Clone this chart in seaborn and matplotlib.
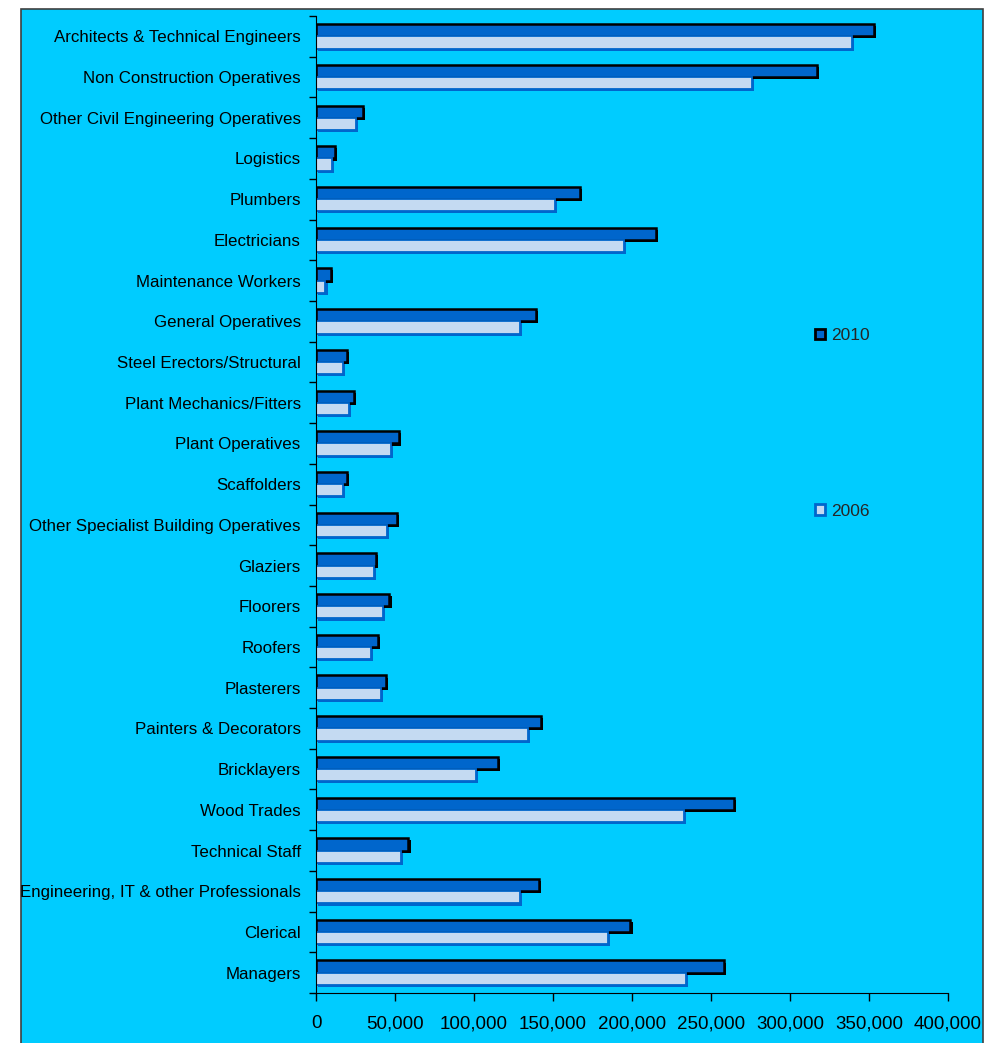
import matplotlib
matplotlib.use("Agg")
import matplotlib.pyplot as plt
import matplotlib.patheffects as pe
from matplotlib.patches import Patch, Rectangle
from matplotlib.ticker import FuncFormatter, MultipleLocator
import numpy as np
import pandas as pd
import seaborn as sns

# --- Data (thousands) ---
occupations = [
    "Architects & Technical Engineers",
    "Non Construction Operatives",
    "Other Civil Engineering Operatives",
    "Logistics",
    "Plumbers",
    "Electricians",
    "Maintenance Workers",
    "General Operatives",
    "Steel Erectors/Structural",
    "Plant Mechanics/Fitters",
    "Plant Operatives",
    "Scaffolders",
    "Other Specialist Building Operatives",
    "Glaziers",
    "Floorers",
    "Roofers",
    "Plasterers",
    "Painters & Decorators",
    "Bricklayers",
    "Wood Trades",
    "Technical Staff",
    "Engineering, IT & other Professionals",
    "Clerical",
    "Managers",
]
values_2010 = [353, 317, 29.5, 12, 167, 215, 9.5, 139.5, 19.5, 24, 52.5, 19.5,
               51.5, 38, 46.5, 39, 44, 142.5, 115, 264.5, 58.5, 141, 199, 258]
values_2006 = [339, 276, 25, 10, 151, 195, 6, 129, 17, 21, 47.5, 17,
               45, 36.5, 42.5, 34.5, 41, 134, 101, 233, 53.5, 129, 184.5, 234]
years = ["2010", "2006"]

df = pd.DataFrame({
    "occupation": occupations * 2,
    "year": [years[0]] * len(occupations) + [years[1]] * len(occupations),
    "workers": np.array(values_2010 + values_2006) * 1000,
})

BG = "#00CCFF"
DARK = "#0066CC"
LIGHT = "#C4DAF2"

sns.set_style("ticks")
plt.rcParams["font.family"] = ["Liberation Sans", "DejaVu Sans"]

fig = plt.figure(figsize=(9.91, 10.43), dpi=100, facecolor="white")
# cyan chart area with a thin dark frame (behind the axes)
fig.patches.append(Rectangle((21 / 991, -0.01), 962 / 991, 1.01 - 9 / 1043,
                             transform=fig.transFigure, facecolor=BG,
                             edgecolor="#404040", linewidth=1.2, zorder=-5))
ax = fig.add_axes([316 / 991, 1 - 993 / 1043, 632 / 991, 977 / 1043])
ax.set_zorder(2)
ax.set_facecolor(BG)

sns.barplot(data=df, y="occupation", x="workers", hue="year",
            hue_order=years, order=occupations, orient="h",
            palette=[DARK, LIGHT], width=0.6, ax=ax, saturation=1)

# edges + drop shadow like the original office chart
styles = [("black", "black", 1.8), (DARK, DARK, 1.3)]
for cont, (edge, shadow, lw) in zip(ax.containers, styles):
    for bar in cont:
        bar.set_edgecolor(edge)
        bar.set_linewidth(lw)
        bar.set_path_effects([
            pe.SimplePatchShadow(offset=(1.5, -1.5), shadow_rgbFace=shadow, alpha=1),
            pe.Normal(),
        ])

ax.set_xlim(0, 400000)
ax.set_ylim(len(occupations) - 0.5, -0.5)
ax.xaxis.set_major_locator(MultipleLocator(50000))
ax.xaxis.set_major_formatter(FuncFormatter(lambda v, p: f"{int(v):,}"))

ax.set_yticks(np.arange(len(occupations)))
ax.set_yticks(np.arange(-0.5, len(occupations), 1), minor=True)
ax.tick_params(axis="y", which="major", length=0, pad=11, labelsize=12.2)
ax.tick_params(axis="y", which="minor", length=5, width=1, color="black")
ax.tick_params(axis="x", which="major", length=6, width=1, color="black",
               labelsize=13.5, pad=10)
for lab in ax.get_xticklabels() + ax.get_yticklabels():
    lab.set_color("black")

sns.despine(ax=ax)
ax.spines["left"].set_color("black")
ax.spines["bottom"].set_color("black")
ax.set_xlabel("")
ax.set_ylabel("")

handles = [Patch(facecolor=DARK, edgecolor="black", linewidth=2),
           Patch(facecolor=LIGHT, edgecolor=DARK, linewidth=2)]
ax.legend(handles, years, loc="center left", bbox_to_anchor=(0.776, 0.583),
          frameon=False, fontsize=12.5, labelspacing=9.25, handlelength=0.55,
          handleheight=0.55, handletextpad=0.35, borderpad=0)

fig.savefig("out.png", dpi=100, facecolor=fig.get_facecolor())
